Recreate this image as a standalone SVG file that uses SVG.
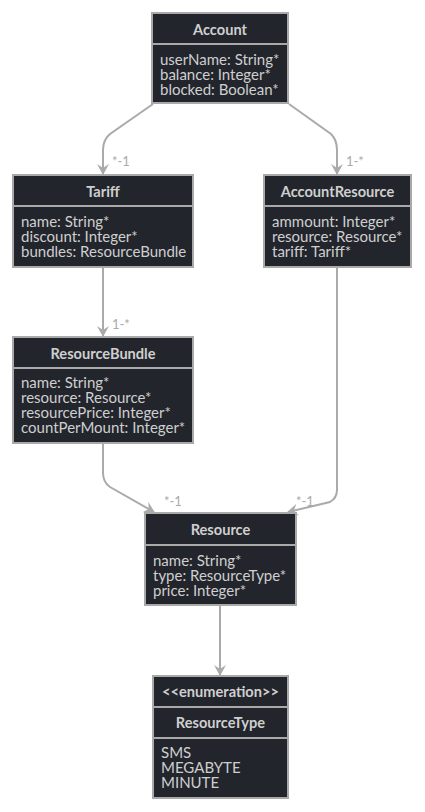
<svg xmlns="http://www.w3.org/2000/svg" width="425" height="812" viewBox="0 0 425 812">
<style>
.box{fill:#22252c;stroke:#a9a9a9;stroke-width:2}
.div{stroke:#a9a9a9;stroke-width:2}
.t{font-family:Lato,"Liberation Sans",sans-serif;font-size:14.6px;font-weight:bold;fill:#cfcfcf;text-anchor:middle}
.a{font-family:Lato,"Liberation Sans",sans-serif;font-size:15px;fill:#cfcfcf}
.e{fill:none;stroke:#aaaaaa;stroke-width:2}
.l{font-family:Lato,"Liberation Sans",sans-serif;font-size:13px;fill:#aaaaaa}
</style>
<defs>
<marker id="arr" markerWidth="12" markerHeight="12" refX="10" refY="6" orient="auto" markerUnits="userSpaceOnUse">
<path d="M0,0 L11,6 L0,12 L4,6 z" fill="#aaaaaa"/>
</marker>
</defs>
<rect width="425" height="812" fill="#ffffff"/>
<g id="connectors">
<path class="e" d="M153,104 L110,134 Q103,140 103,150 L103,174" marker-end="url(#arr)"/>
<text class="l" x="112" y="166">*-1</text>
<path class="e" d="M289,104 L331,134 Q337,140 337,150 L337,174" marker-end="url(#arr)"/>
<text class="l" x="346" y="166">1-*</text>
<path class="e" d="M103,267 L103,336" marker-end="url(#arr)"/>
<text class="l" x="112" y="329">1-*</text>
<path class="e" d="M103,443 L103,473 Q103,482 110,487 L154,512" marker-end="url(#arr)"/>
<text class="l" x="164" y="506">*-1</text>
<path class="e" d="M337,267 L337,490 Q337,498 330,502 L288,512" marker-end="url(#arr)"/>
<text class="l" x="296" y="506">*-1</text>
<path class="e" d="M220,605 L220,675" marker-end="url(#arr)"/>
</g>
<g id="Account">
<rect class="box" x="152" y="13" width="136" height="90"/>
<line class="div" x1="152" y1="44" x2="288" y2="44"/>
<text class="t" x="220" y="35">Account</text>
<text class="a" x="160" y="65">userName: String*</text>
<text class="a" x="160" y="80">balance: Integer*</text>
<text class="a" x="160" y="95">blocked: Boolean*</text>
</g>
<g id="Tariff">
<rect class="box" x="13" y="175" width="180" height="92"/>
<line class="div" x1="13" y1="206" x2="193" y2="206"/>
<text class="t" x="103" y="197">Tariff</text>
<text class="a" x="21" y="227">name: String*</text>
<text class="a" x="21" y="242">discount: Integer*</text>
<text class="a" x="21" y="257">bundles: ResourceBundle</text>
</g>
<g id="AccountResource">
<rect class="box" x="264" y="175" width="147" height="92"/>
<line class="div" x1="264" y1="206" x2="411" y2="206"/>
<text class="t" x="337.5" y="197">AccountResource</text>
<text class="a" x="272" y="227">ammount: Integer*</text>
<text class="a" x="272" y="242">resource: Resource*</text>
<text class="a" x="272" y="257">tariff: Tariff*</text>
</g>
<g id="ResourceBundle">
<rect class="box" x="13" y="337" width="180" height="106"/>
<line class="div" x1="13" y1="368" x2="193" y2="368"/>
<text class="t" x="103" y="359">ResourceBundle</text>
<text class="a" x="21" y="388">name: String*</text>
<text class="a" x="21" y="403">resource: Resource*</text>
<text class="a" x="21" y="418">resourcePrice: Integer*</text>
<text class="a" x="21" y="433">countPerMount: Integer*</text>
</g>
<g id="Resource">
<rect class="box" x="145" y="513" width="151" height="92"/>
<line class="div" x1="145" y1="545" x2="296" y2="545"/>
<text class="t" x="220.5" y="535">Resource</text>
<text class="a" x="153" y="566">name: String*</text>
<text class="a" x="153" y="581">type: ResourceType*</text>
<text class="a" x="153" y="596">price: Integer*</text>
</g>
<g id="ResourceType">
<rect class="box" x="153" y="676" width="135" height="122"/>
<line class="div" x1="153" y1="707" x2="288" y2="707"/>
<line class="div" x1="153" y1="738" x2="288" y2="738"/>
<text class="t" x="220.5" y="697">&lt;&lt;enumeration&gt;&gt;</text>
<text class="t" x="220.5" y="728">ResourceType</text>
<text class="a" x="161" y="758">SMS</text>
<text class="a" x="161" y="773">MEGABYTE</text>
<text class="a" x="161" y="788">MINUTE</text>
</g>
</svg>
